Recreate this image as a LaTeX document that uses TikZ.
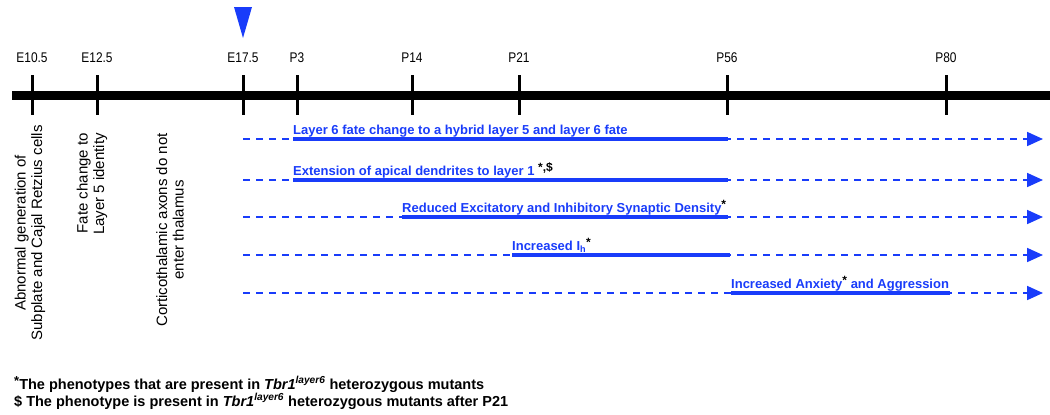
\documentclass[tikz,border=0pt]{standalone}
\usepackage{fontspec}
\setmainfont{Liberation Sans}
\newfontfamily\agefont[FakeStretch=0.85]{Liberation Sans}
\usetikzlibrary{arrows.meta}
\definecolor{phaseblue}{RGB}{25,60,250}
% black marks after a phenotype
\newcommand{\blackmark}[1]{\textcolor{black}{\raisebox{0.55ex}{\fontsize{12}{12}\selectfont #1}}}

\begin{document}
\begin{tikzpicture}[x=1pt, y=-1pt,
    age/.style={font=\agefont\fontsize{14}{16}\selectfont, anchor=base, inner sep=0pt},
    event/.style={font=\fontsize{15}{16.5}\selectfont, rotate=90, inner sep=0pt},
    dashrow/.style={phaseblue, line width=1.8pt, dash pattern=on 7pt off 6pt,
        -{Triangle[length=16pt, width=14pt]}},
    phase/.style={phaseblue, line width=3.5pt},
    pheno/.style={font=\bfseries\fontsize{13}{15}\selectfont, text=phaseblue,
        anchor=base west, inner sep=0pt},
    note/.style={font=\bfseries\fontsize{14.5}{17}\selectfont, anchor=base west, inner sep=0pt}]
    \useasboundingbox (0,0) rectangle (1050,415);

    % Draw the time axis
    \draw[line width=9pt] (12,95) -- (1050,95);

    % --- Ages on the axis ---
    \foreach \x/\t [count=\i] in {32/E10.5, 97/E12.5, 243/E17.5, 297/P3, 412/P14, 519/P21, 727/P56, 946/P80} {
        \draw[line width=3pt] (\x,75) -- (\x,115);
        \node[age] (age\i) at (\x,62) {\t};
    }

    % Marker above E17.5
    \fill[phaseblue] (234,7) -- (252,7) -- (243,38) -- cycle;

    % --- Embryonic events (rotated) ---
    \node[event, align=center] (subplate) at (30,233) {Abnormal generation of\\Subplate and Cajal Retzius cells};
    \node[event, anchor=east, align=right] (layerfive) at (92,133) {Fate change to\\Layer 5 identity};
    \node[event, align=center] (axons) at (170,230) {Corticothalamic axons do not\\enter thalamus};

    % --- Dashed phenotype rows, from E17.5 onwards ---
    \foreach \y [count=\i] in {139,180,217,255,293} {
        \coordinate (row\i) at (243,\y);
        \coordinate (tip\i) at (1043,\y);
        \draw[dashrow] (row\i) -- (tip\i);
    }

    % --- Periods where each phenotype is seen ---
    \node[pheno] (hybrid) at (293,134) {Layer 6 fate change to a hybrid layer 5 and layer 6 fate};
    \coordinate (hybridend) at (728,139);
    \draw[phase] (hybrid.south west |- row1) -- (hybridend);

    \node[pheno] (apical) at (293,175) {Extension of apical dendrites to layer 1 \blackmark{*,\$}};
    \coordinate (apicalend) at (728,180);
    \draw[phase] (apical.south west |- row2) -- (apicalend);

    \node[pheno] (synapse) at (402,212) {Reduced Excitatory and Inhibitory Synaptic Density\blackmark{*}};
    \coordinate (synapseend) at (728,217);
    \draw[phase] (synapse.south west |- row3) -- (synapseend);

    \node[pheno] (ih) at (512,250) {Increased I\textsubscript{h}\blackmark{*}};
    \coordinate (ihend) at (730,255);
    \draw[phase] (ih.south west |- row4) -- (ihend);

    \node[pheno] (anxiety) at (731,288) {Increased Anxiety\blackmark{*} and Aggression};
    \coordinate (anxietyend) at (950,293);
    \draw[phase] (anxiety.south west |- row5) -- (anxietyend);

    % --- Footnotes ---
    \node[note] (star) at (14,389) {\raisebox{0.45ex}{\fontsize{13}{13}\selectfont *}The phenotypes that are present in \textit{Tbr1}\textsuperscript{\textit{layer6}} heterozygous mutants};
    \node[note] (dollar) at (14,406) {\$ The phenotype is present in \textit{Tbr1}\textsuperscript{\textit{layer6}} heterozygous mutants after P21};
\end{tikzpicture}
\end{document}
